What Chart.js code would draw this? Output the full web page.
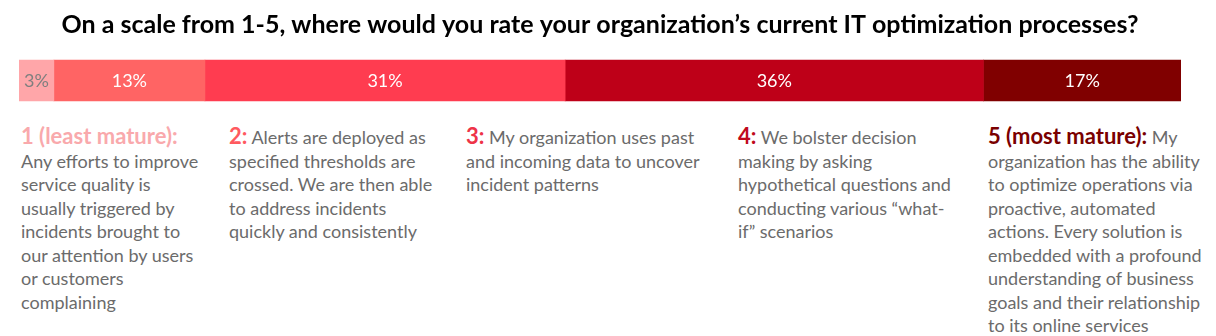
<!DOCTYPE html>
<html>
<head>
<meta charset="utf-8">
<script src="https://cdn.jsdelivr.net/npm/chart.js@4.4.1/dist/chart.umd.min.js"></script>
<style>
  html, body { margin: 0; padding: 0; background: #fff; }
  body { width: 1216px; height: 336px; position: relative; overflow: hidden; font-family: Lato, "Open Sans", sans-serif; }
  #bar-wrap { position: absolute; left: 0; top: 0; width: 1216px; height: 110px; }
  .desc { position: absolute; top: 124px; font-size: 18px; line-height: 23.5px; color: #6b6b6b; white-space: nowrap; }
  .desc b { font-size: 22px; font-weight: 700; }
</style>
</head>
<body>
<div id="bar-wrap"><canvas id="rating-bar"></canvas></div>
<div id="desc-list"></div>
<script>
const question = "On a scale from 1-5, where would you rate your organization\u2019s current IT optimization processes?";
const levels = ["1 (least mature):", "2:", "3:", "4:", "5 (most mature):"];
const shares = [3, 13, 31, 36, 17];
const levelText = [
    ["", "Any efforts to improve", "service quality is", "usually triggered by", "incidents brought to", "our attention by users", "or customers", "complaining"],
    [" Alerts are deployed as", "specified thresholds are", "crossed. We are then able", "to address incidents", "quickly and consistently"],
    [" My organization uses past", "and incoming data to uncover", "incident patterns"],
    [" We bolster decision", "making by asking", "hypothetical questions and", "conducting various \u201cwhat-", "if\u201d scenarios"],
    [" My", "organization has the ability", "to optimize operations via", "proactive, automated", "actions. Every solution is", "embedded with a profound", "understanding of business", "goals and their relationship", "to its online services"]
];

const segColors = ["#FFA6A9", "#FF6464", "#FF3C50", "#BE0018", "#800000"];
const headColors = ["#F9A9AC", "#FF5A5F", "#EE3348", "#C00A1C", "#7A0000"];
const labelColors = ["#7f7f7f", "#fff", "#fff", "#fff", "#fff"];
const colLeft = [21, 229, 466, 738, 988];

// draws the % inside each segment
const segLabels = {
    id: 'segLabels',
    afterDatasetsDraw(chart) {
        const ctx = chart.ctx;
        ctx.save();
        ctx.font = "18px Lato, 'Open Sans', sans-serif";
        ctx.textAlign = "center";
        ctx.textBaseline = "middle";
        chart.data.datasets.forEach((ds, i) => {
            const bar = chart.getDatasetMeta(i).data[0];
            const p = bar.getProps(['x', 'base', 'y'], true);
            ctx.fillStyle = labelColors[i];
            ctx.fillText(ds.data[0] + "%", (p.x + p.base) / 2, p.y + 1);
        });
        ctx.restore();
    }
};

new Chart(document.getElementById("rating-bar"), {
    type: 'bar',
    data: {
        labels: ["rating"],
        datasets: levels.map((l, i) => ({
            label: l,
            data: [shares[i]],
            backgroundColor: segColors[i],
            borderWidth: 0,
            barThickness: 41
        }))
    },
    options: {
        indexAxis: 'y',
        responsive: true,
        maintainAspectRatio: false,
        animation: false,
        layout: { padding: { left: 19, right: 35, top: 0, bottom: 0 } },
        scales: {
            x: { stacked: true, min: 0, max: 100, display: false },
            y: { stacked: true, display: false }
        },
        plugins: {
            legend: { display: false },
            tooltip: { enabled: false },
            title: {
                display: true,
                text: question,
                color: "#000",
                font: { family: "Lato, 'Open Sans', sans-serif", size: 25, weight: 'bold' },
                padding: { top: 10, bottom: 11 }
            }
        }
    },
    plugins: [segLabels]
});

function addDescriptions() {
    const list = document.getElementById("desc-list");
    levels.forEach((l, i) => {
        const div = document.createElement("div");
        div.className = "desc";
        div.style.left = colLeft[i] + "px";
        const lines = levelText[i];
        div.innerHTML = `<b style="color:${headColors[i]}">${l}</b>` + lines[0] + "<br>" + lines.slice(1).join("<br>");
        list.appendChild(div);
    });
}

addDescriptions();
</script>
</body>
</html>
